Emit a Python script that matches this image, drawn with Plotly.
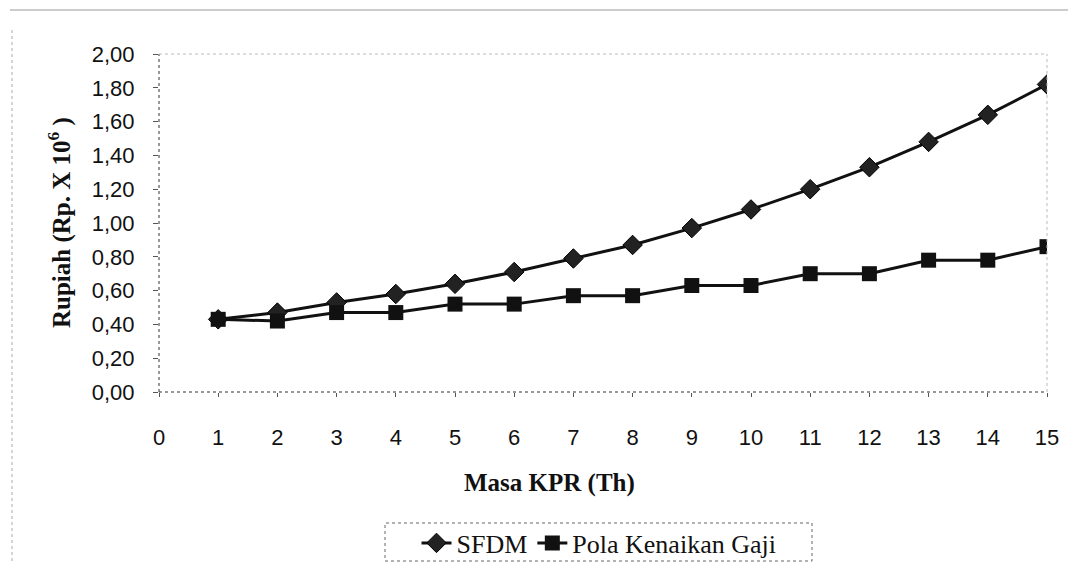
import plotly.graph_objects as go

tahun = list(range(1, 16))
sfdm = [0.43, 0.47, 0.53, 0.58, 0.64, 0.71, 0.79, 0.87, 0.97, 1.08, 1.20, 1.33, 1.48, 1.64, 1.82]
pola_gaji = [0.43, 0.42, 0.47, 0.47, 0.52, 0.52, 0.57, 0.57, 0.63, 0.63, 0.70, 0.70, 0.78, 0.78, 0.86]
y_ticks = [0, 0.2, 0.4, 0.6, 0.8, 1.0, 1.2, 1.4, 1.6, 1.8, 2.0]
x_ticks = list(range(0, 16))

# page has an 8px body margin, so the figure is a bit smaller than the window
OFF = 8
W, H = 1076 - 2 * OFF, 570 - 2 * OFF
# plot area in window pixels: x 159..1047, y 54..392
L, T = 159 - OFF, 54 - OFF
R, B = W - (1047 - OFF), H - (392 - OFF)
PW, PH = W - L - R, H - T - B


def px(x):
    # window x pixel -> paper coord
    return (x - OFF - L) / PW


def py(y):
    # window y pixel -> paper coord
    return (H - (y - OFF) - B) / PH


fig = go.Figure()

fig.add_trace(go.Scatter(x=tahun, y=sfdm, name='SFDM', mode='lines+markers',
                         line=dict(color='#111111', width=3),
                         marker=dict(symbol='diamond', size=15, color='#222222',
                                     line=dict(color='#000000', width=1))))
fig.add_trace(go.Scatter(x=tahun, y=pola_gaji, name='Pola Kenaikan Gaji', mode='lines+markers',
                         line=dict(color='#111111', width=3),
                         marker=dict(symbol='square', size=15, color='#111111')))

shapes = [
    # plot frame
    dict(type='line', xref='paper', yref='paper', x0=0, x1=0, y0=0, y1=1,
         line=dict(color='#333333', width=1, dash='dot')),
    dict(type='line', xref='paper', yref='paper', x0=0, x1=1, y0=0, y1=0,
         line=dict(color='#333333', width=1, dash='dot')),
    dict(type='line', xref='paper', yref='paper', x0=0, x1=1, y0=1, y1=1,
         line=dict(color='#bbbbbb', width=1, dash='dot')),
    dict(type='line', xref='paper', yref='paper', x0=1, x1=1, y0=0, y1=1,
         line=dict(color='#bbbbbb', width=1, dash='dot')),
    # outer chart border
    dict(type='line', xref='paper', yref='paper', x0=px(10), x1=px(1076), y0=py(10), y1=py(10),
         line=dict(color='#999999', width=1)),
    dict(type='line', xref='paper', yref='paper', x0=px(12), x1=px(12), y0=py(30), y1=py(562),
         line=dict(color='#aaaaaa', width=1, dash='dot')),
    # legend box
    dict(type='rect', xref='paper', yref='paper', x0=px(385), x1=px(812), y0=py(561), y1=py(523),
         line=dict(color='#666666', width=1, dash='dot')),
]

annotations = [
    dict(text='<b>Rupiah (Rp. X 10<sup>6</sup> )</b>', textangle=-90,
         xref='paper', yref='paper', x=px(59), y=py(223),
         showarrow=False, xanchor='center', yanchor='middle',
         font=dict(family='Liberation Serif', size=25, color='#111111')),
    dict(text='<b>Masa KPR (Th)</b>',
         xref='paper', yref='paper', x=px(549), y=py(483),
         showarrow=False, xanchor='center', yanchor='middle',
         font=dict(family='Liberation Serif', size=25, color='#111111')),
]

fig.update_layout(
    width=W, height=H,
    margin=dict(l=L, r=R, t=T, b=B, autoexpand=False),
    paper_bgcolor='white', plot_bgcolor='white',
    separators=',.',
    showlegend=True,
    legend=dict(orientation='h', x=px(599), y=py(543),
                xanchor='center', yanchor='middle', bgcolor='rgba(0,0,0,0)',
                font=dict(family='Liberation Serif', size=26, color='#111111'),
                tracegroupgap=0),
    shapes=shapes,
    annotations=annotations,
)

fig.update_xaxes(range=[0, 15], tickvals=x_ticks, showgrid=False, zeroline=False,
                 showline=False, ticks='outside', ticklen=4, tickcolor='#555555',
                 ticklabelstandoff=22, automargin=False,
                 tickfont=dict(family='Liberation Sans', size=22, color='#111111'))
fig.update_yaxes(range=[0, 2.0], tickvals=y_ticks, tickformat='.2f', showgrid=False,
                 zeroline=False, showline=False, ticks='outside', ticklen=5,
                 tickcolor='#555555', ticklabelstandoff=14, automargin=False,
                 tickfont=dict(family='Liberation Sans', size=22, color='#111111'))

fig.write_html("out.html")
